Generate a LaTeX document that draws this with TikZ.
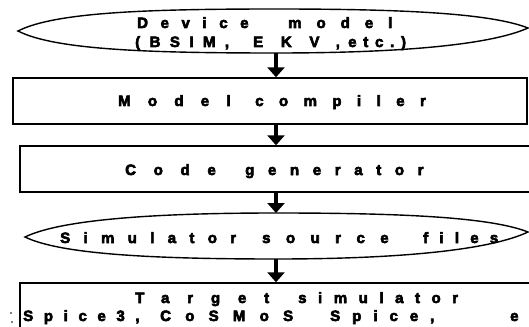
\documentclass[tikz,border=0pt]{standalone}
\usepackage{fontspec}
\newfontfamily\heavy[FakeBold=4]{Liberation Sans Bold}
\usetikzlibrary{arrows.meta}
\tikzset{
  outline/.style={draw=black, line width=1.4pt},
  stepbox/.style={outline, rectangle, inner sep=0pt},
  flow/.style={line width=3.8pt, -{Triangle[width=17pt,length=10pt]}},
  label/.style={anchor=base west, inner sep=0pt, font=\heavy\fontsize{15}{17}\selectfont},
}
% a word set with extra room between its letters (percent of the font size)
\newcommand{\spread}[2]{{\addfontfeatures{LetterSpace=#1}#2}}
\begin{document}
\begin{tikzpicture}[x=1pt,y=-1pt]
\useasboundingbox (0,0) rectangle (529,326);
\clip (0,0) rectangle (529,326);
\fill[white] (0,0) rectangle (529,326);

% lens-shaped outline for the device model
\draw[outline] (18,31) .. controls (55,12) and (150,9) .. (276,9)
  .. controls (400,9) and (490,13) .. (528,28)
  .. controls (490,45) and (400,53) .. (276,53)
  .. controls (150,53) and (55,50) .. (18,31) -- cycle;
\coordinate (dev-s) at (276,53);
\node[label] (dev-a) at (137,28) {\spread{84}{Device}};
\node[label] (dev-b) at (288,28) {\spread{100}{model}};
\node[label] (dev-c) at (135,47) {\spread{63}{(BSIM,}};
\node[label] (dev-d) at (253,47) {\spread{118}{EKV,}};
\node[label] (dev-e) at (348,47) {\spread{45}{etc.)}};

% model compiler
\node[stepbox, minimum width=514pt, minimum height=46pt] (mc) at (270,101) {};
\node[label] (mc-a) at (118,106) {\spread{115}{Model}};
\node[label] (mc-b) at (255,106) {\spread{103}{compiler}};

% code generator (runs off the right edge)
\node[stepbox, minimum width=530pt, minimum height=46pt] (cg) at (285,169) {};
\node[label] (cg-a) at (125,175) {\spread{118}{Code}};
\node[label] (cg-b) at (245,175) {\spread{91}{generator}};

% simulator source files
\draw[outline] (25,237) .. controls (60,220) and (150,213) .. (276,213)
  .. controls (400,213) and (490,217) .. (528,232)
  .. controls (490,250) and (400,259) .. (276,259)
  .. controls (150,259) and (60,254) .. (25,237) -- cycle;
\coordinate (src-n) at (276,213);
\coordinate (src-s) at (276,259);
\node[label] (src-a) at (60,243) {\spread{89}{Simulator}};
\node[label] (src-b) at (262,243) {\spread{103}{source}};
\node[label] (src-c) at (423,243) {\spread{75}{files}};

% target simulator (runs off the right and bottom edges)
\node[stepbox, minimum width=530pt, minimum height=60pt] (ts) at (285,313) {};
\node[label] (ts-a) at (135,303) {\spread{119}{Target}};
\node[label] (ts-b) at (298,303) {\spread{77}{simulator}};
\node[label] (ts-c) at (23,321) {\spread{71}{Spice3,}};
\node[label] (ts-d) at (160,321) {\spread{95}{CoSMoS}};
\node[label] (ts-e) at (330,321) {\spread{80}{Spice,}};
\node[label] (ts-f) at (510,321) {e};
\fill (11,313) circle (0.8pt) (12,322) circle (0.8pt);

% connectors
\draw[flow] (dev-s) -- (mc.north -| dev-s);
\draw[flow] (mc.south -| dev-s) -- (cg.north -| dev-s);
\draw[flow] (cg.south -| dev-s) -- (src-n);
\draw[flow] (src-s) -- (ts.north -| dev-s);
\end{tikzpicture}
\end{document}
